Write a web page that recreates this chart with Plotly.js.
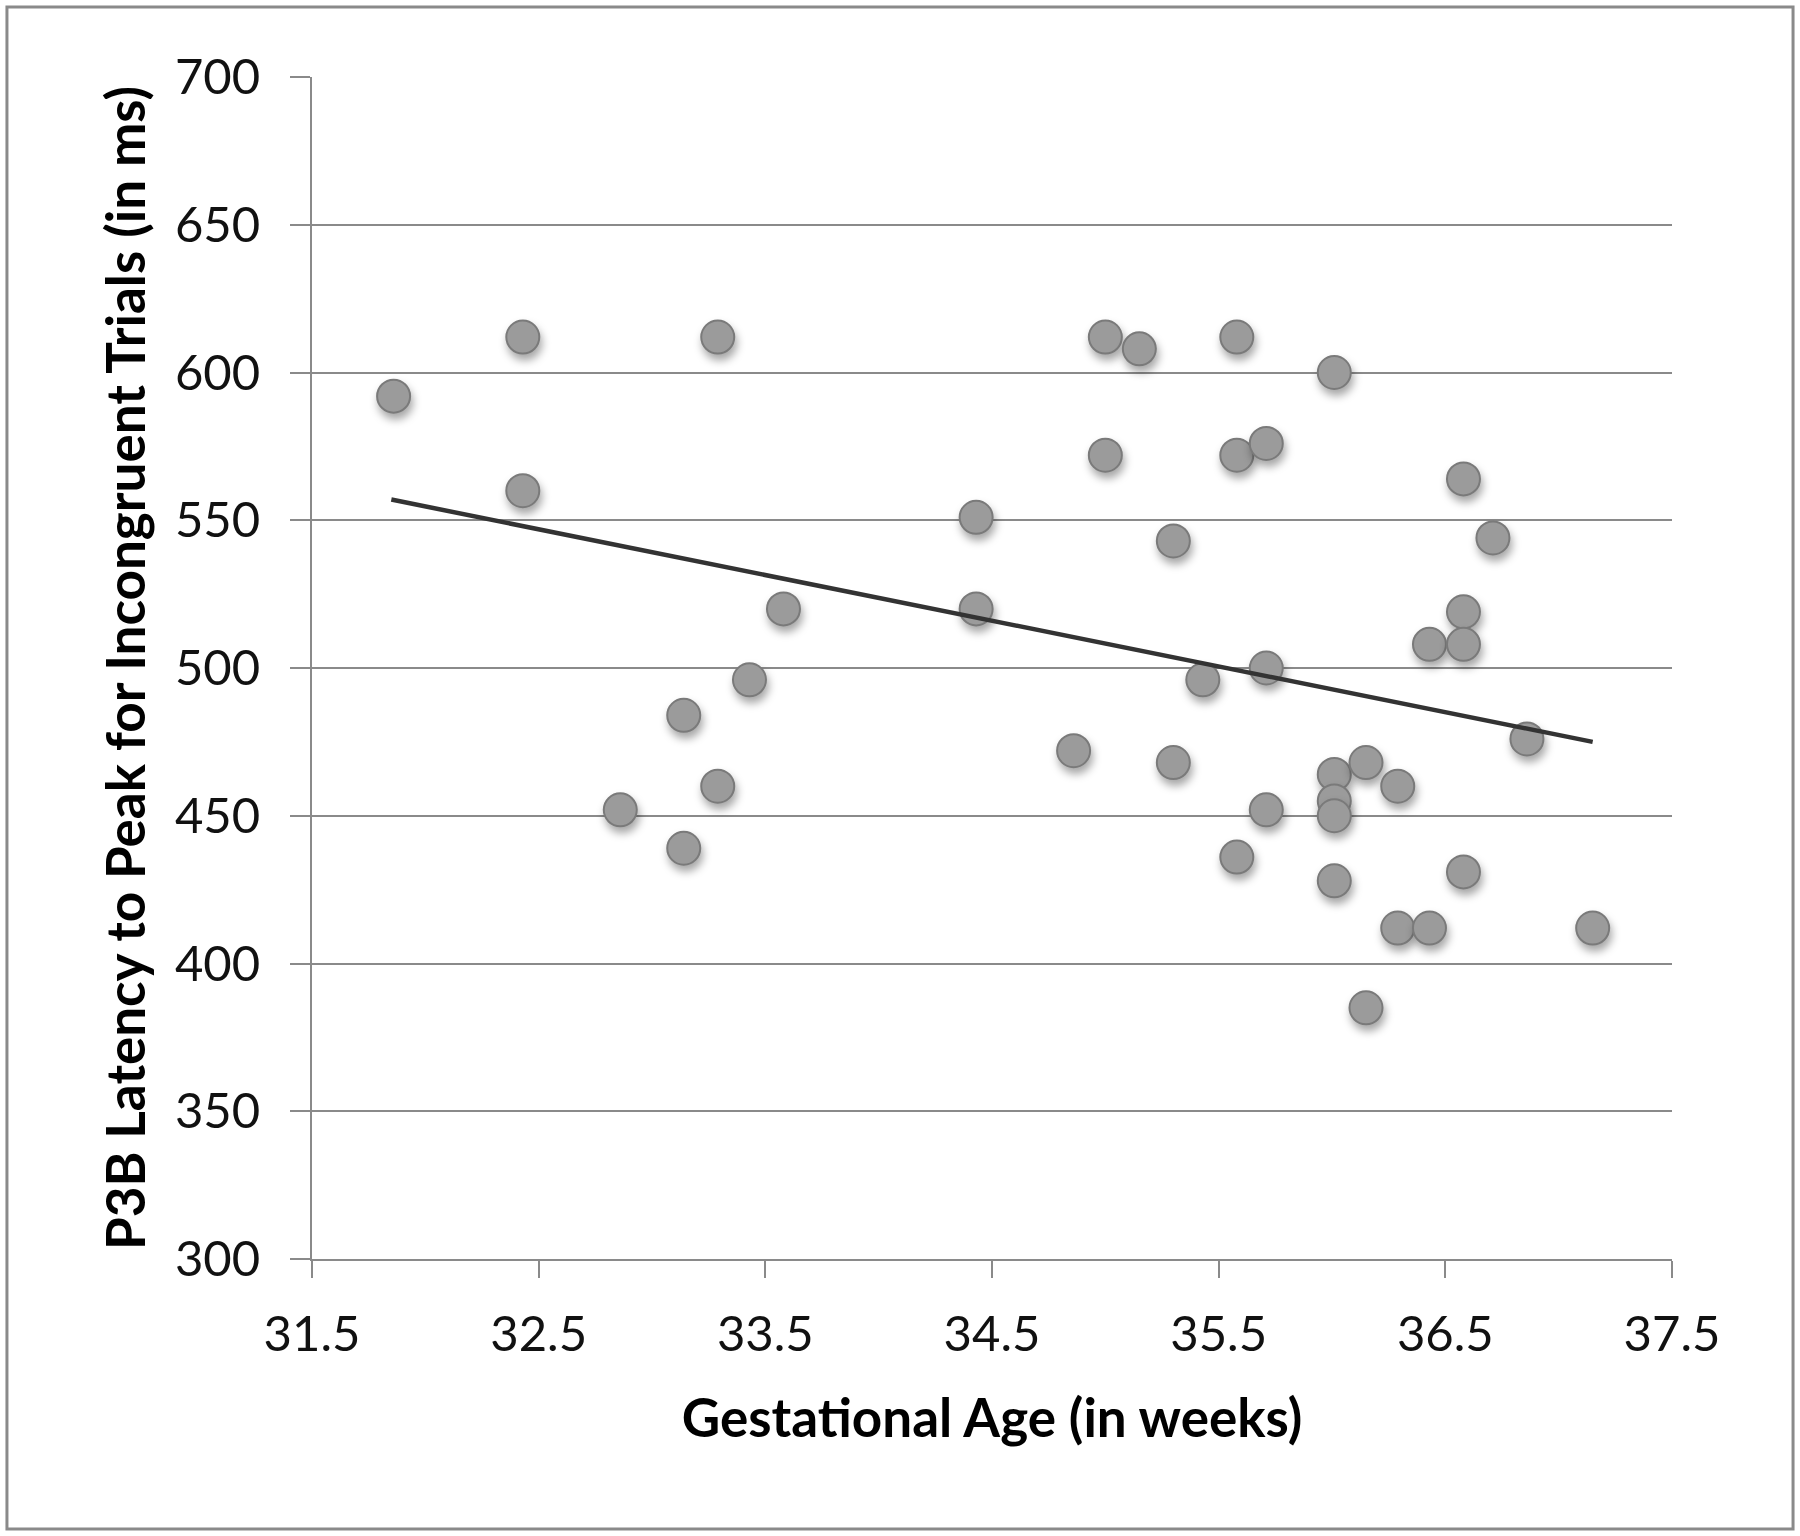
<!DOCTYPE html>
<html>
<head>
<meta charset="utf-8">
<script src="https://cdn.plot.ly/plotly-3.0.1.min.js"></script>
<style>
  html, body { margin: 0; padding: 0; background: #ffffff; }
  #chart { width: 1800px; height: 1536px; }
  #chart .scatterlayer .trace .points path {
    filter: drop-shadow(2px 6px 4px rgba(0,0,0,0.35));
  }
</style>
</head>
<body>
<div id="chart"></div>
<script>
// Gestational age (weeks)
const gestationalAge = [
  31.86, 32.43, 32.43, 33.29, 32.86, 33.14, 33.14, 33.29, 33.43, 33.58,
  34.43, 34.43, 34.86, 35.00, 35.00, 35.15, 35.30, 35.30, 35.43, 35.58,
  35.58, 35.58, 35.71, 35.71, 35.71, 36.01, 36.01, 36.01, 36.01, 36.01,
  36.15, 36.15, 36.29, 36.29, 36.43, 36.43, 36.58, 36.58, 36.58, 36.58,
  36.71, 36.86, 37.15
];
// P3B latency to peak for incongruent trials (ms)
const p3bLatency = [
  592, 612, 560, 612, 452, 484, 439, 460, 496, 520,
  551, 520, 472, 612, 572, 608, 543, 468, 496, 612,
  572, 436, 576, 500, 452, 600, 464, 455, 450, 428,
  468, 385, 460, 412, 412, 508, 564, 519, 508, 431,
  544, 476, 412
];
// Linear trendline endpoints
const trendX = [31.85, 37.15];
const trendY = [557, 475];

const xTicks = [31.5, 32.5, 33.5, 34.5, 35.5, 36.5, 37.5];
const xTickLabels = ["31.5", "32.5", "33.5", "34.5", "35.5", "36.5", "37.5"];
const yTicks = [300, 350, 400, 450, 500, 550, 600, 650, 700];
const yTickLabels = ["300", "350", "400", "450", "500", "550", "600", "650", "700"];

const tickFont = { family: "Lato, 'Open Sans', sans-serif", size: 49, color: "#111111" };
const titleFont = { family: "Lato, 'Open Sans', sans-serif", size: 53, color: "#000000", weight: "bold" };

const traces = [
  {
    type: "scatter",
    mode: "markers",
    x: gestationalAge,
    y: p3bLatency,
    marker: { size: 33, color: "#9b9b9b", line: { color: "#7a7a7a", width: 2 } },
    hoverinfo: "skip",
    cliponaxis: false,
    showlegend: false
  },
  {
    type: "scatter",
    mode: "lines",
    x: trendX,
    y: trendY,
    line: { color: "#333333", width: 4.5 },
    hoverinfo: "skip",
    showlegend: false
  }
];

const layout = {
  width: 1800,
  height: 1536,
  margin: { l: 312, r: 128, t: 77, b: 277 },
  paper_bgcolor: "#ffffff",
  plot_bgcolor: "#ffffff",
  showlegend: false,
  xaxis: {
    range: [31.5, 37.5],
    tickmode: "array",
    tickvals: xTicks,
    ticktext: xTickLabels,
    showgrid: false,
    zeroline: false,
    showline: true,
    linecolor: "#8a8a8a",
    linewidth: 2,
    ticks: "outside",
    ticklen: 17,
    tickwidth: 2,
    tickcolor: "#8a8a8a",
    tickfont: tickFont,
    ticklabelstandoff: 14,
    title: { text: "Gestational Age (in weeks)", font: titleFont, standoff: 40 }
  },
  yaxis: {
    range: [300, 700],
    tickmode: "array",
    tickvals: yTicks,
    ticktext: yTickLabels,
    showgrid: true,
    gridcolor: "#8a8a8a",
    gridwidth: 2,
    zeroline: false,
    showline: true,
    linecolor: "#8a8a8a",
    linewidth: 2,
    ticks: "outside",
    ticklen: 20,
    tickwidth: 2,
    tickcolor: "#8a8a8a",
    tickfont: tickFont,
    ticklabelstandoff: 20,
    title: { text: "P3B Latency to Peak for Incongruent Trials (in ms)", font: titleFont, standoff: 12 }
  },
  shapes: [
    {
      type: "rect",
      xref: "paper", yref: "paper",
      x0: -0.2243, x1: 1.0890,
      y0: -0.2284, y1: 1.0592,
      line: { color: "#8a8a8a", width: 3 },
      fillcolor: "rgba(0,0,0,0)",
      layer: "below"
    }
  ]
};

Plotly.newPlot("chart", traces, layout, { staticPlot: true, displayModeBar: false });
</script>
</body>
</html>
